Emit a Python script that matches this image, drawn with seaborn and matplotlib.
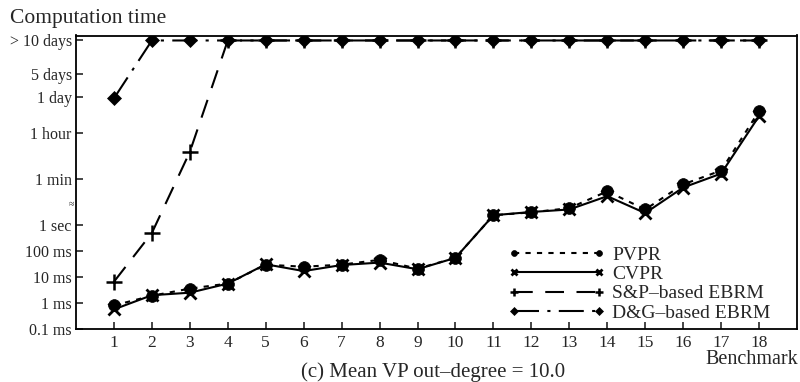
import numpy as np
import pandas as pd
import matplotlib
matplotlib.use("Agg")
import matplotlib.pyplot as plt
import seaborn as sns

# ---- data (seconds) ----
benchmarks = list(range(1, 19))
T = 4.3e6  # plotted level for "> 10 days" (timeout)
pvpr = [0.81e-3, 1.9e-3, 3.6e-3, 5.6e-3, 30e-3, 25e-3, 30e-3, 46e-3, 21e-3, 55e-3,
        2.4, 3.1, 4.5, 20, 4.0, 37, 126, 24500]
cvpr = [0.57e-3, 2.0e-3, 2.5e-3, 5.6e-3, 31e-3, 17e-3, 29e-3, 36e-3, 20e-3, 55e-3,
        2.4, 3.2, 4.0, 13, 2.9, 28, 96, 15800]
sp_ebrm = [6.6e-3, 0.5, 660, T, T, T, T, T, T, T, T, T, T, T, T, T, T, T]
dg_ebrm = [76000, T, T, T, T, T, T, T, T, T, T, T, T, T, T, T, T, T]
series_names = ["PVPR", "CVPR", "S&P\u2013based EBRM", "D&G\u2013based EBRM"]
ytick_vals = [1e-4, 1e-3, 1e-2, 0.1, 1, 60, 3600, 86400, 432000, T]
ytick_labels = ["0.1 ms", "1 ms", "10 ms", "100 ms", "1 sec", "1 min", "1 hour",
                "1 day", "5 days", "> 10 days"]

sns.set_style("ticks")
plt.rcParams['font.family'] = ['Liberation Serif', 'DejaVu Serif']

fig = plt.figure(figsize=(8, 3.82), dpi=100)
ax = fig.add_axes([76/800, (382-329)/382, (797-76)/800, (329-35.5)/382])

L1 = np.log10(86400.0)
K = 1.28

def fwd(s):
    L = np.log10(np.clip(np.asarray(s, dtype=float), 1e-12, None))
    return np.where(L <= L1, L, L1 + (L - L1) * K)

def inv(d):
    d = np.asarray(d, dtype=float)
    L = np.where(d <= L1, d, L1 + (d - L1) / K)
    return 10.0 ** L

ax.set_yscale('function', functions=(fwd, inv))

styles = [
    dict(marker='o', markersize=8.5, linestyle=(0, (2.5, 3)), markeredgewidth=0.5),
    dict(marker='x', markersize=8.5, linestyle='-', markeredgewidth=2),
    dict(marker='+', markersize=12, linestyle=(0, (9, 6)), markeredgewidth=1.8),
    dict(marker='D', markersize=7.5, linestyle=(0, (12, 4, 1.5, 4)), markeredgewidth=0.5),
]
data = [pvpr, cvpr, sp_ebrm, dg_ebrm]
order = [2, 3, 0, 1]
for i in order:
    df = pd.DataFrame({"Benchmark": benchmarks, "Time": data[i]})
    sns.lineplot(data=df, x="Benchmark", y="Time", ax=ax, color='black',
                 lw=1.5, label=series_names[i], markeredgecolor='black',
                 markerfacecolor='black', **styles[i])

ax.set_xlim(0, 19)
ax.set_ylim(1e-4, inv(7.3))
ax.set_yticks(ytick_vals)
ax.set_yticklabels(ytick_labels)
ax.minorticks_off()
ax.set_xticks(benchmarks)
ax.set_xticklabels([str(b) for b in benchmarks])
ax.tick_params(axis='y', direction='in', length=5, width=1.2, labelsize=11.5, pad=3)
ax.tick_params(axis='x', direction='in', length=5, width=1.2, labelsize=12.5, pad=4)
ax.set_xlabel("")
ax.set_ylabel("")
for sp in ax.spines.values():
    sp.set_linewidth(1.3)
    sp.set_color('black')

ax.text(-0.003, fwd(1.5e6), "\u2248", transform=ax.get_yaxis_transform(),
        ha='right', va='center', fontsize=7)

handles, labels = ax.get_legend_handles_labels()
hmap = dict(zip(labels, handles))
leg = ax.legend([hmap[n] for n in series_names], series_names,
                loc='upper left', bbox_to_anchor=(508/800, (382-246)/382),
                bbox_transform=fig.transFigure, frameon=False, fontsize=14,
                handlelength=5.0, handletextpad=0.35, labelspacing=0.09,
                borderpad=0, borderaxespad=0, numpoints=2, markerscale=0.5)

fig.text(10/800, (382-18)/382, "Computation time", fontsize=15.5,
         ha='left', va='center')
fig.text(798/800, (382-360)/382, "Benchmark", fontsize=14.5,
         ha='right', va='center')
fig.text(433/800, (382-372)/382, "(c) Mean VP out\u2013degree = 10.0", fontsize=15,
         ha='center', va='center')

fig.savefig("out.png", dpi=100)
